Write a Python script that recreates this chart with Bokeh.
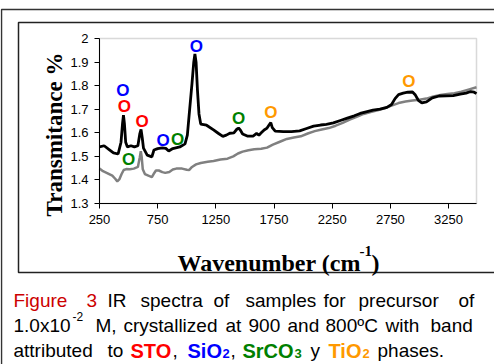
import math
from bokeh.plotting import figure
from bokeh.models import Range1d, FixedTicker, ColumnDataSource, BoxAnnotation
from bokeh.core.properties import value
from bokeh.embed import file_html
from bokeh.resources import INLINE

# ---------------- data ----------------
black_wn = [250, 290, 330, 370, 410, 435, 448, 456, 464, 475, 490, 520, 550, 580, 596, 607, 617, 628,
            660, 700, 718, 750, 790, 820, 845, 880, 940, 985, 1005, 1025, 1045, 1060, 1070, 1080, 1092,
            1105, 1120, 1170, 1230, 1270, 1310, 1340, 1370, 1405, 1430, 1445, 1460, 1480, 1520, 1570,
            1600, 1620, 1640, 1665, 1690, 1710, 1722, 1735, 1760, 1830, 1900, 1970, 2030, 2090, 2150,
            2200, 2260, 2320, 2380, 2440, 2490, 2550, 2600, 2660, 2720, 2760, 2790, 2820, 2860, 2900,
            2940, 2965, 2990, 3020, 3060, 3110, 3170, 3230, 3290, 3350, 3400, 3440, 3470, 3490]
black_val = [1.540, 1.545, 1.530, 1.515, 1.510, 1.560, 1.640, 1.675, 1.640, 1.560, 1.540, 1.545, 1.540,
             1.545, 1.595, 1.614, 1.580, 1.535, 1.505, 1.498, 1.527, 1.533, 1.536, 1.534, 1.523, 1.533,
             1.540, 1.553, 1.590, 1.700, 1.810, 1.900, 1.935, 1.900, 1.780, 1.680, 1.637, 1.632, 1.612,
             1.598, 1.585, 1.590, 1.598, 1.600, 1.615, 1.620, 1.612, 1.595, 1.586, 1.586, 1.597, 1.590,
             1.600, 1.612, 1.620, 1.635, 1.643, 1.622, 1.607, 1.605, 1.605, 1.608, 1.618, 1.628, 1.633,
             1.636, 1.642, 1.652, 1.662, 1.672, 1.682, 1.690, 1.696, 1.700, 1.708, 1.720, 1.745, 1.762,
             1.768, 1.772, 1.773, 1.760, 1.738, 1.727, 1.731, 1.748, 1.756, 1.757, 1.758, 1.764, 1.768,
             1.775, 1.772, 1.766]

gray_wn = [250, 280, 320, 360, 385, 403, 420, 440, 458, 480, 510, 545, 580, 596, 605, 612, 622, 640, 670,
           700, 715, 735, 760, 790, 815, 850, 880, 910, 960, 1000, 1020, 1045, 1080, 1120, 1180, 1230,
           1290, 1350, 1400, 1440, 1480, 1530, 1580, 1640, 1690, 1740, 1800, 1860, 1920, 1980, 2040,
           2100, 2160, 2220, 2280, 2340, 2400, 2460, 2520, 2580, 2640, 2700, 2760, 2820, 2880, 2940,
           3000, 3060, 3120, 3180, 3240, 3300, 3360, 3420, 3490]
gray_val = [1.448, 1.437, 1.428, 1.418, 1.405, 1.394, 1.402, 1.425, 1.442, 1.446, 1.445, 1.448, 1.455,
            1.495, 1.522, 1.500, 1.445, 1.425, 1.418, 1.412, 1.425, 1.440, 1.440, 1.433, 1.430, 1.434,
            1.444, 1.448, 1.448, 1.443, 1.442, 1.455, 1.466, 1.472, 1.477, 1.480, 1.487, 1.490, 1.500,
            1.512, 1.520, 1.526, 1.530, 1.532, 1.537, 1.550, 1.562, 1.574, 1.580, 1.585, 1.597, 1.607,
            1.614, 1.620, 1.630, 1.642, 1.656, 1.668, 1.680, 1.688, 1.695, 1.704, 1.715, 1.726, 1.733,
            1.737, 1.740, 1.745, 1.754, 1.760, 1.765, 1.768, 1.774, 1.783, 1.793]

# band markers ("O")
band_wn = [450, 464, 616, 500, 796, 922, 1082, 1445, 1722, 2909]
band_val = [1.780, 1.710, 1.647, 1.486, 1.569, 1.573, 1.965, 1.660, 1.684, 1.816]
band_phase = ["SiO2", "STO", "STO", "SrCO3", "SiO2", "SrCO3", "SiO2", "SrCO3", "TiO2", "TiO2"]

x_ticks = [250, 750, 1250, 1750, 2250, 2750, 3250]
y_ticks = [1.3, 1.4, 1.5, 1.6, 1.7, 1.8, 1.9, 2.0]
x_lo, x_hi = 250, 3490
y_lo, y_hi = 1.3, 2.0

phase_colors = {"STO": "#ff0000", "SiO2": "#0000ff", "SrCO3": "#008000", "TiO2": "#ff9900"}

# ---------------- layout (page pixels) ----------------
W, H = 494, 364
PL, PR, PT, PB = 99, 476, 38, 203   # plot-area edges on the page

kx = (x_hi - x_lo) / (PR - PL)
ky = (y_hi - y_lo) / (PB - PT)
x_range = Range1d(x_lo - PL * kx, x_hi + (W - PR) * kx)
y_range = Range1d(y_lo - (H - PB) * ky, y_hi + PT * ky)

p = figure(width=W, height=H, output_backend="svg", toolbar_location=None,
           x_range=x_range, y_range=y_range,
           min_border=0, min_border_left=0, min_border_right=0, min_border_top=0, min_border_bottom=0)
p.extra_x_ranges = {"px": Range1d(0, W)}
p.extra_y_ranges = {"py": Range1d(H, 0)}
p.background_fill_color = "white"
p.border_fill_color = "white"
p.outline_line_color = None
p.grid.visible = False

# axes pinned to the plot-area edges
p.xaxis.fixed_location = y_lo
p.yaxis.fixed_location = x_lo
p.xaxis.bounds = (x_lo, x_hi)
p.yaxis.bounds = (y_lo, y_hi)
p.xaxis.ticker = FixedTicker(ticks=x_ticks)
p.yaxis.ticker = FixedTicker(ticks=y_ticks)
p.yaxis.major_label_overrides = {2.0: "2"}
for ax in (p.xaxis, p.yaxis):
    ax.axis_line_color = "black"
    ax.axis_line_width = 1
    ax.major_tick_line_color = "black"
    ax.major_tick_in = 0
    ax.major_tick_out = 5
    ax.minor_tick_line_color = None
    ax.major_label_text_font = "Liberation Sans"
    ax.major_label_text_font_size = "13px"
    ax.major_label_text_color = "black"
p.yaxis.major_label_standoff = 6
p.xaxis.major_label_standoff = 6

# plot-area box (top / right edges in grey)
p.add_layout(BoxAnnotation(left=x_lo, right=x_hi, bottom=y_lo, top=y_hi, fill_alpha=0,
                           line_color="#808080", line_width=1.5, level="underlay"))

p.line(gray_wn, gray_val, line_color="#808080", line_width=2.5)
p.line(black_wn, black_val, line_color="black", line_width=2.8)

src = ColumnDataSource(dict(x=band_wn, y=band_val, t=["O"] * len(band_wn),
                            c=[phase_colors[ph] for ph in band_phase]))
p.text(x="x", y="y", text="t", source=src, text_color="c", text_align="center",
       text_baseline="middle", text_font=value("Liberation Sans"), text_font_size="17px",
       text_font_style="bold")

# ---------------- page decoration in pixel coordinates ----------------
p.line([1, 1, W + 20], [H + 20, 9, 9], line_color="#333333", line_width=1.5,
       x_range_name="px", y_range_name="py")
p.line([W + 20, 18, 18, W + 20], [272, 272, 22, 22], line_color="#222222", line_width=1.5,
       x_range_name="px", y_range_name="py")


def txt(x, y, text, font="Liberation Sans", size="19px", color="black", bold=False,
        align="left", baseline="alphabetic", angle=0):
    p.text(x=[x], y=[y], text=[text], text_color=color, text_font=value(font),
           text_font_size=size, text_font_style="bold" if bold else "normal",
           text_align=align, text_baseline=baseline, angle=angle,
           x_range_name="px", y_range_name="py")


# axis titles
txt(54, 134, "Transmitance %", font="Liberation Serif", size="23px", bold=True,
    align="center", angle=math.pi / 2)
txt(177, 262, "Wavenumber (cm", font="Liberation Serif", size="24px", bold=True)
txt(359, 250, "-1", font="Liberation Serif", size="15px", bold=True)
txt(371, 262, ")", font="Liberation Serif", size="24px", bold=True)

# caption
l1 = [(13, "Figure", "#cc0000"), (86, "3", "#cc0000"), (107, "IR", "black"), (140, "spectra", "black"),
      (213, "of", "black"), (245, "samples", "black"), (323, "for", "black"), (358, "precursor", "black"),
      (458, "of", "black")]
for x, t, c in l1:
    txt(x, 300, t, color=c)
l2 = [(13, "1.0x10"), (95, "M,"), (123, "crystallized"), (225, "at"), (248, "900"), (287, "and"),
      (325, "800ºC"), (385, "with"), (430, "band")]
for x, t in l2:
    txt(x, 325, t)
txt(72, 316, "-2", size="12px")
txt(13, 350, "attributed")
txt(107, 350, "to")
txt(130, 350, "STO", color="#ff0000", bold=True, size="20px")
txt(172, 350, ",")
txt(187, 350, "SiO", color="#0000ff", bold=True, size="20px")
txt(222, 353, "2", color="#0000ff", bold=True, size="13px")
txt(230, 350, ",")
txt(242, 350, "SrCO", color="#008000", bold=True, size="20px")
txt(294, 353, "3", color="#008000", bold=True, size="13px")
txt(310, 350, "y")
txt(328, 350, "TiO", color="#ff9900", bold=True, size="20px")
txt(362, 353, "2", color="#ff9900", bold=True, size="13px")
txt(377, 350, "phases.")

open("out.html", "w").write(file_html(p, INLINE))
